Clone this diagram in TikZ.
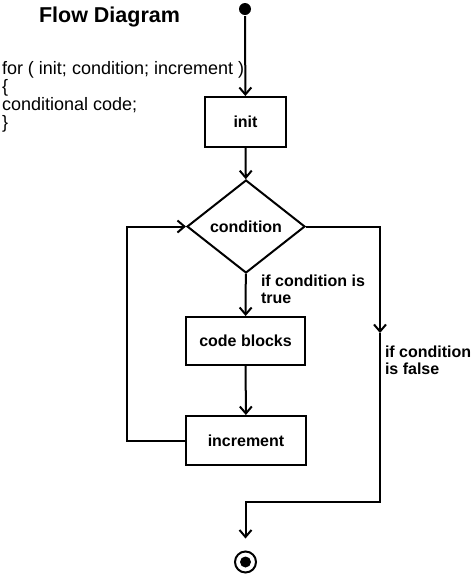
\documentclass[tikz,border=0pt]{standalone}
\usepackage{fontspec}
\setmainfont{Liberation Sans}
\usetikzlibrary{positioning, shapes.geometric, arrows.meta}

\begin{document}
\begin{tikzpicture}[x=1pt, y=-1pt, line width=2pt,
    >={Straight Barb[length=7pt,width=12pt]},
    box/.style={draw, font=\fontsize{16}{17}\selectfont\bfseries},
    lbl/.style={align=left, inner sep=0, font=\fontsize{16}{17}\selectfont\bfseries}]
    \useasboundingbox (0,0) rectangle (474,574);

    % Draw title and code
    \node[anchor=base west, inner sep=0, font=\fontsize{21.5}{22}\selectfont\bfseries] (title) at (38,22) {Flow Diagram};
    \node[anchor=north west, align=left, inner sep=0, font=\fontsize{18}{18.2}\selectfont] (code text) at (1,60)
      {for ( init; condition; increment )\\ \{\\ conditional code;\\ \}};

    % Draw nodes
    \node[circle, fill, inner sep=0, minimum size=12pt] (start) at (245,9) {};
    \node[box, minimum width=81pt, minimum height=50pt] (init) at (245.5,122) {init};
    \node[box, diamond, inner sep=0, aspect=1.27, minimum width=118pt, minimum height=93pt] (cond) at (246,226.5) {condition};
    \node[box, minimum width=119pt, minimum height=48pt] (code) at (245.5,341) {code blocks};
    \node[box, minimum width=120pt, minimum height=49pt] (incr) at (246,440.5) {increment};
    \node[circle, draw, inner sep=0, minimum size=21pt] (stop) at (245.5,562) {};
    \fill (stop) circle (5.5pt);

    % Draw connectors
    \foreach \a/\b in {start/init, init/cond, cond/code, code/incr}
      \draw[->] (\a) -- (\b);
    \draw[->] (incr.west) -- ++(-58,0) |- (cond.west);
    \coordinate (turn) at (380,333);
    \coordinate (low) at (380,502);
    \draw[->] (cond.east) -| (turn);
    \draw[->, shorten >=12pt] (turn) -- (low) -| (stop);

    % Draw labels
    \node[lbl, anchor=north west] (true lbl) at (260,274) {if condition is\\true};
    \node[lbl, anchor=north west] (false lbl) at (384,345) {if condition\\is false};
\end{tikzpicture}
\end{document}
